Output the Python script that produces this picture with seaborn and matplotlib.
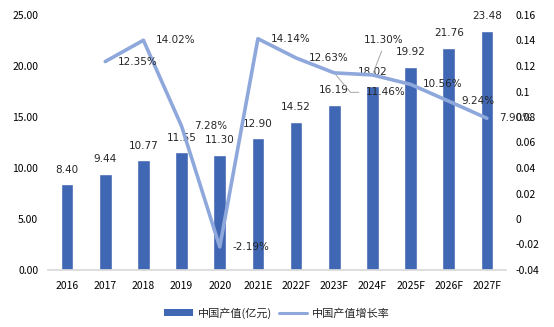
import numpy as np
import pandas as pd
import matplotlib
matplotlib.use("Agg")
import matplotlib.pyplot as plt
import seaborn as sns
from matplotlib.lines import Line2D
from matplotlib.patches import Patch

years = ["2016", "2017", "2018", "2019", "2020", "2021E", "2022F", "2023F",
         "2024F", "2025F", "2026F", "2027F"]
output = [8.40, 9.44, 10.77, 11.55, 11.30, 12.90, 14.52, 16.19, 18.02, 19.92, 21.76, 23.48]
growth = [np.nan, 0.1235, 0.1402, 0.0728, -0.0219, 0.1414, 0.1263, 0.1146,
          0.1130, 0.1056, 0.0924, 0.0790]
left_ticks = [0, 5, 10, 15, 20, 25]
right_ticks = [-0.04, -0.02, 0, 0.02, 0.04, 0.06, 0.08, 0.10, 0.12, 0.14, 0.16]
right_labels = ["-0.04", "-0.02", "0", "0.02", "0.04", "0.06", "0.08", "0.1",
                "0.12", "0.14", "0.16"]
bar_name = "中国产值(亿元)"
line_name = "中国产值增长率"

sns.set_theme(style="white")
plt.rcParams['font.family'] = ['Noto Sans CJK SC', 'DejaVu Sans']

BAR_C = "#4067B3"
LINE_C = "#8FA8DC"

df = pd.DataFrame({"year": years, "output": output, "growth": growth,
                   "pos": np.arange(len(years))})

fig = plt.figure(figsize=(5.54, 3.27), dpi=100)
ax = fig.add_axes([48/554, 1-270/327, (506-48)/554, (270-15)/327])

sns.barplot(data=df, x="year", y="output", color=BAR_C, width=0.33,
            saturation=1, ax=ax)
ax.set_xlim(-0.5, len(years)-0.5)
ax.set_ylim(0, 25)
ax.set_yticks(left_ticks)
ax.set_yticklabels([f"{t:.2f}" for t in left_ticks])
ax.set_xlabel("")
ax.set_ylabel("")
for s in ["top", "right", "left"]:
    ax.spines[s].set_visible(False)
ax.spines["bottom"].set_color("#D9D9D9")
ax.tick_params(axis="both", length=0, labelsize=7.5, colors="black")
ax.tick_params(axis="y", pad=7)
ax.tick_params(axis="x", pad=8)

for i, v in enumerate(output):
    ax.annotate(f"{v:.2f}", (i, v), xytext=(0, 10.5), textcoords="offset points",
                ha="center", va="center", fontsize=7.5, family="DejaVu Sans")

ax2 = ax.twinx()
sns.lineplot(data=df, x="pos", y="growth", color=LINE_C, linewidth=2.6, ax=ax2)
ax2.set_ylim(-0.04, 0.16)
ax2.set_yticks(right_ticks)
ax2.set_yticklabels(right_labels)
ax2.set_xlim(-0.5, len(years)-0.5)
ax2.set_xlabel("")
ax2.set_ylabel("")
for s in ["top", "right", "left", "bottom"]:
    ax2.spines[s].set_visible(False)
ax2.tick_params(axis="both", length=0, labelsize=7.5, colors="black")
ax2.tick_params(axis="y", pad=7)

for i, v in enumerate(growth):
    if np.isnan(v):
        continue
    lab = f"{v*100:.2f}%"
    if years[i] == "2023F":
        ax2.annotate(lab, (i, v), xytext=(23, -14), textcoords="offset points",
                     ha="left", va="center", fontsize=7.5, family="DejaVu Sans",
                     arrowprops=dict(arrowstyle="-", color="#A6A6A6", lw=0.7,
                                     relpos=(0, 0.5),
                                     connectionstyle="angle,angleA=0,angleB=-50,rad=0",
                                     shrinkA=3, shrinkB=2))
    elif years[i] == "2024F":
        ax2.annotate(lab, (i, v), xytext=(-6, 25), textcoords="offset points",
                     ha="left", va="center", fontsize=7.5, family="DejaVu Sans",
                     arrowprops=dict(arrowstyle="-", color="#A6A6A6", lw=0.7,
                                     relpos=(0.5, 0),
                                     shrinkA=2, shrinkB=2))
    else:
        ax2.annotate(lab, (i, v), xytext=(9, 0), textcoords="offset points",
                     ha="left", va="center", fontsize=7.5, family="DejaVu Sans")

handles = [Patch(facecolor=BAR_C, edgecolor="none"),
           Line2D([0], [0], color=LINE_C, linewidth=2.2)]
fig.legend(handles, [bar_name, line_name], loc="center",
           bbox_to_anchor=(277/554, 1-313/327), ncol=2, frameon=False,
           fontsize=8, handlelength=2.6, handleheight=0.6, columnspacing=0.6,
           handletextpad=0.4)

fig.savefig("out.png", dpi=100)
